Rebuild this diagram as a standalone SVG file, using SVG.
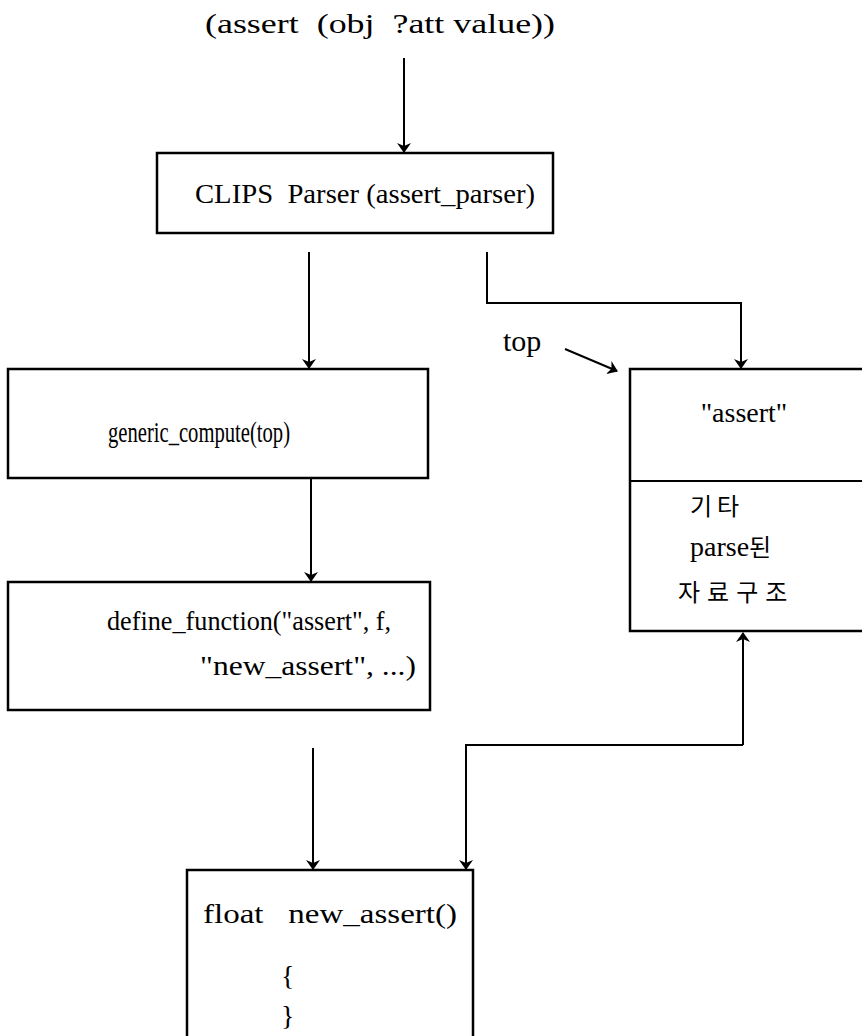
<svg xmlns="http://www.w3.org/2000/svg" width="862" height="1036" viewBox="0 0 862 1036">
  <style>
    .box { fill: #fff; stroke: #000; stroke-width: 2.5; }
    .wire { fill: none; stroke: #000; stroke-width: 2; }
    .t { font-family: "Liberation Serif", "Noto Sans CJK KR", serif; font-size: 28px; fill: #000; }
    .k { font-family: "Noto Sans CJK KR", sans-serif; font-size: 24px; fill: #000; }
  </style>
  <defs>
    <marker id="arrow" viewBox="0 0 10 16" refX="9" refY="8" markerWidth="10" markerHeight="16" markerUnits="userSpaceOnUse" orient="auto">
      <path d="M0,1 L10,8 L0,15 L3,8 Z" fill="#000"/>
    </marker>
  </defs>

  <rect width="862" height="1036" fill="#fff"/>

  <!-- input expression -->
  <g id="input">
    <text class="t" x="205" y="33" xml:space="preserve" textLength="350" lengthAdjust="spacingAndGlyphs">(assert  (obj  ?att value))</text>
  </g>

  <g id="parser">
    <rect class="box" x="157" y="153" width="396" height="80"/>
    <text class="t" x="195" y="203" xml:space="preserve" textLength="340" lengthAdjust="spacingAndGlyphs">CLIPS  Parser (assert_parser)</text>
  </g>

  <g id="generic">
    <rect class="box" x="8" y="369" width="420" height="109"/>
    <text class="t" x="108" y="442" textLength="182" lengthAdjust="spacingAndGlyphs" style="font-size:30px">generic_compute(top)</text>
  </g>

  <g id="define">
    <rect class="box" x="8" y="582" width="422" height="128"/>
    <text class="t" x="107" y="630" textLength="284" lengthAdjust="spacingAndGlyphs">define_function("assert", f,</text>
    <text class="t" x="200" y="675" textLength="216" lengthAdjust="spacingAndGlyphs">"new_assert", ...)</text>
  </g>

  <g id="newassert">
    <rect class="box" x="187" y="870" width="286" height="170"/>
    <text class="t" x="203" y="923" xml:space="preserve" textLength="254" lengthAdjust="spacingAndGlyphs">float   new_assert()</text>
    <text class="t" x="281" y="985">{</text>
    <text class="t" x="281" y="1025">}</text>
  </g>

  <g id="record">
    <rect class="box" x="630" y="369" width="240" height="262"/>
    <line class="wire" x1="630" y1="481" x2="862" y2="481"/>
    <text class="t" x="744" y="422" text-anchor="middle">"assert"</text>
    <text class="k" x="690" y="515" letter-spacing="5">기타</text>
    <text class="t" x="690" y="556">parse<tspan class="k">된</tspan></text>
    <text class="k" x="678" y="601" letter-spacing="7">자료구조</text>
  </g>

  <g id="top-label">
    <text class="t" x="503" y="351" style="font-size:30px">top</text>
  </g>

  <g id="connectors">
    <line class="wire" x1="404" y1="58" x2="404" y2="152" marker-end="url(#arrow)"/>
    <line class="wire" x1="309" y1="252" x2="309" y2="368" marker-end="url(#arrow)"/>
    <polyline class="wire" points="487,252 487,303 741,303 741,368" marker-end="url(#arrow)"/>
    <line class="wire" x1="565" y1="349" x2="617" y2="371" marker-end="url(#arrow)"/>
    <line class="wire" x1="311" y1="478" x2="311" y2="581" marker-end="url(#arrow)"/>
    <line class="wire" x1="313" y1="748" x2="313" y2="869" marker-end="url(#arrow)"/>
    <polyline class="wire" points="743,745 743,633" marker-end="url(#arrow)"/>
    <polyline class="wire" points="743,745 466,745 466,869" marker-end="url(#arrow)"/>
  </g>
</svg>
